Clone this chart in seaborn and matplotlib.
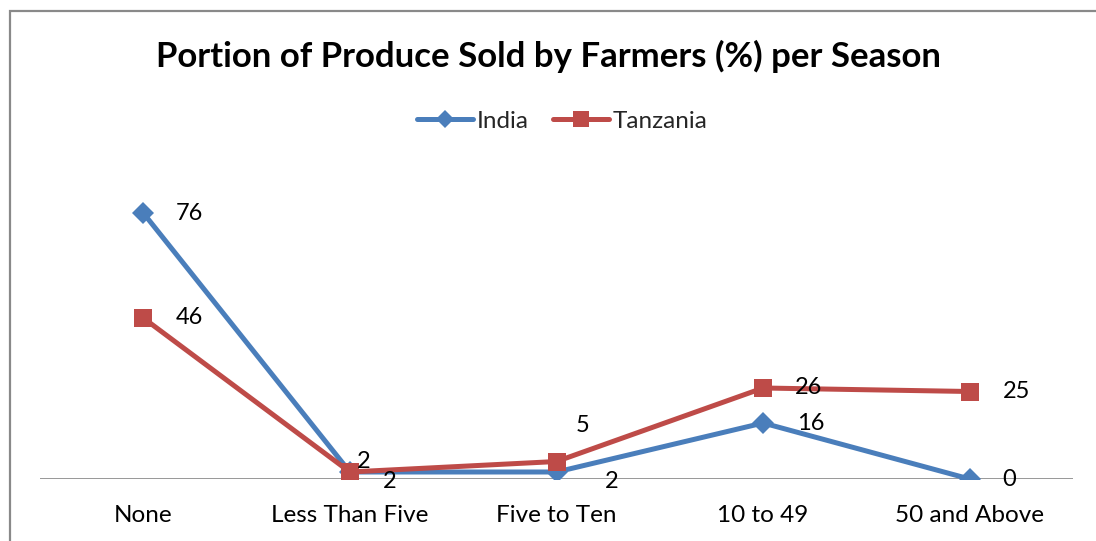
import matplotlib
matplotlib.use("Agg")
import matplotlib.pyplot as plt
from matplotlib.patches import Rectangle
from matplotlib.lines import Line2D
import seaborn as sns
import pandas as pd

categories = ["None", "Less Than Five", "Five to Ten", "10 to 49", "50 and Above"]
india = [76, 2, 2, 16, 0]
tanzania = [46, 2, 5, 26, 25]
series_names = ["India", "Tanzania"]
title = "Portion of Produce Sold by Farmers (%) per Season"

colors = {"India": "#4A7EBB", "Tanzania": "#BE4B48"}
markers = {"India": "D", "Tanzania": "s"}

df = pd.DataFrame({
    "category": categories * 2,
    "value": india + tanzania,
    "country": ["India"] * len(categories) + ["Tanzania"] * len(categories),
})

sns.set_theme(style="white")
plt.rcParams["font.family"] = ["Lato", "DejaVu Sans"]

fig = plt.figure(figsize=(10.96, 5.41), dpi=100)
ax = fig.add_axes([40 / 1096, 62 / 541, 1033 / 1096, 315 / 541])

sns.lineplot(
    data=df, x="category", y="value", hue="country", style="country",
    markers=markers, dashes=False, palette=colors, linewidth=3.6,
    markersize=12, markeredgewidth=0, sort=False, ax=ax, legend=False,
)
for line, name in zip(ax.get_lines(), series_names):
    line.set_markerfacecolor(colors[name])
    line.set_markeredgecolor(colors[name])
    if name == "India":
        line.set_markersize(11)
        line.set_zorder(3)
    else:
        line.set_markersize(12.5)
        line.set_zorder(4)

ax.set_xlim(-0.5, len(categories) - 0.5)
ax.set_ylim(0, 90)
ax.axhline(0, color="#868686", linewidth=1.2, zorder=1)

for side in ["top", "right", "left", "bottom"]:
    ax.spines[side].set_visible(False)
ax.set_yticks([])
ax.set_xlabel("")
ax.set_ylabel("")
ax.tick_params(axis="x", length=0, pad=19, labelsize=17.5, labelcolor="#000000")

# data labels: (dx, dy) in pixels from each point to the label's left-centre
label_offsets = {
    "India": [(32, 0), (33, -9), (48, -9), (34, 0), (33, 0)],
    "Tanzania": [(32, 0), (7, 11), (19, 36), (32, 0), (33, 0)],
}
for name, vals in (("India", india), ("Tanzania", tanzania)):
    for i, v in enumerate(vals):
        dx, dy = label_offsets[name][i]
        ax.annotate(str(v), (i, v), xytext=(dx * 0.72, dy * 0.72),
                    textcoords="offset points", ha="left", va="center",
                    fontsize=17, color="#000000", zorder=6)

# legend
handles = [
    Line2D([], [], color=colors[n], marker=markers[n], linewidth=3.6,
           markersize=9.5 if n == "India" else 11.5, markeredgewidth=0)
    for n in series_names
]
fig.legend(handles, series_names, loc="center", bbox_to_anchor=(0.513, 1 - 121 / 541),
           ncol=2, frameon=False, fontsize=17.5, handlelength=2.3,
           handletextpad=0.15, columnspacing=1.0)

fig.text(0.5, 1 - 56 / 541, title, ha="center", va="center",
         fontsize=25, fontweight="bold", color="#000000")

fig.patches.append(Rectangle((10 / 1096, -0.1), 1.2, 1 - 11 / 541 + 0.1,
                             transform=fig.transFigure, fill=False,
                             edgecolor="#898989", linewidth=1.6))

fig.savefig("out.png", dpi=100)
